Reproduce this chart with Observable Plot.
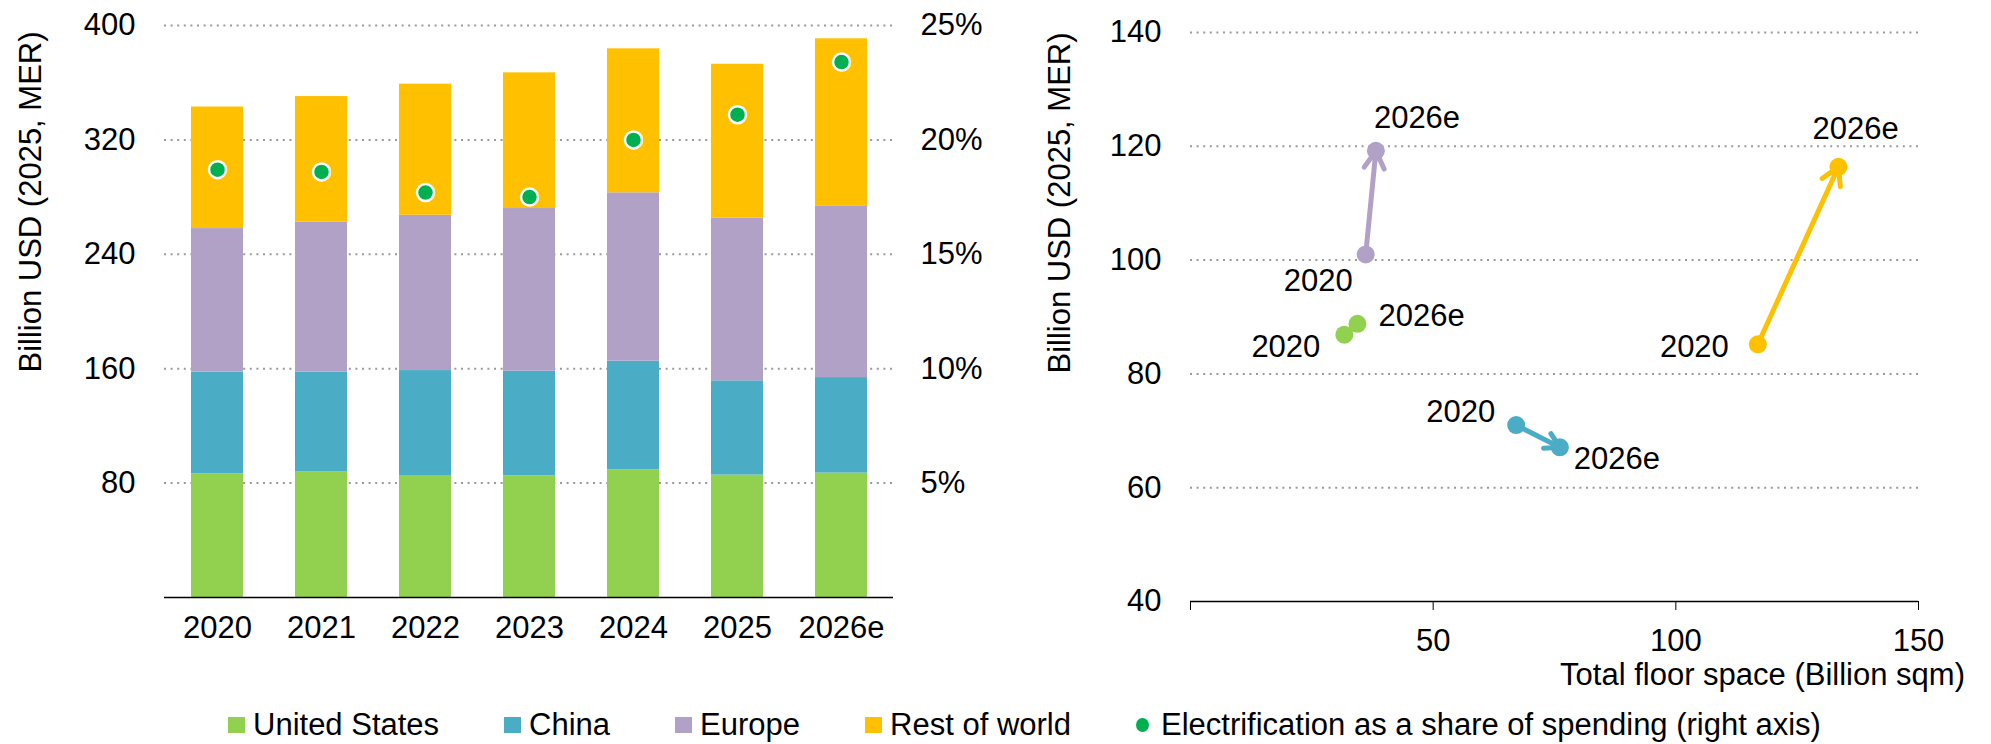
<!DOCTYPE html>
<html>
<head>
<meta charset="utf-8">
<script src="https://cdn.jsdelivr.net/npm/d3@7"></script>
<script src="https://cdn.jsdelivr.net/npm/@observablehq/plot@0.6"></script>
<style>
  html, body { margin: 0; padding: 0; background: #fff; }
  #wrap { position: relative; width: 1991px; height: 744px; overflow: hidden; font-family: "Liberation Sans", Arial, sans-serif; color: #000; }
  #left { position: absolute; left: 0; top: 0; width: 1000px; }
  #right { position: absolute; left: 1000px; top: 0; width: 991px; }
  #legend { position: absolute; left: 228px; top: 707px; height: 36px; display: flex; align-items: center; font-size: 31px; white-space: nowrap; }
  .item { display: flex; align-items: center; margin-right: 65px; }
  .sw { width: 17px; height: 16px; margin-right: 8px; }
  .dotsw { width: 13px; height: 14px; border-radius: 50%; margin-right: 12px; }
</style>
</head>
<body>
<div id="wrap">
  <div id="left"></div>
  <div id="right"></div>
  <div id="legend"></div>
</div>
<script>
// ---------- data ----------
const regions = ["United States", "China", "Europe", "Rest of world"];
const years = ["2020", "2021", "2022", "2023", "2024", "2025", "2026e"];

// Spending, billion USD (2025, MER)
const usSpend     = [86.5, 88.0, 85.3, 85.1, 89.3, 85.6, 87.0];
const chinaSpend  = [71.1, 69.6, 73.4, 73.2, 76.0, 65.9, 66.8];
const europeSpend = [100.4, 104.9, 108.6, 113.7, 117.7, 113.9, 119.7];
const rowSpend    = [85.0, 87.8, 91.7, 94.9, 100.7, 107.5, 117.2];

// Electrification as a share of spending (%)
const electrificationShare = [18.7, 18.6, 17.7, 17.5, 20.0, 21.1, 23.4];

// Right chart: floor space (billion sqm) and spending (billion USD), per region
const scatterYears = ["2020", "2026e"];
const floor2020 = [31.7, 67.1, 36.1, 116.9];
const floor2026 = [34.4, 76.1, 38.2, 133.5];
const spend2020 = [86.9, 71.0, 101.0, 85.2];
const spend2026 = [88.8, 67.1, 119.2, 116.4];

// Tick labels
const leftYTicks = [80, 160, 240, 320, 400];
const shareTicks = [5, 10, 15, 20, 25];
const rightYTicks = [40, 60, 80, 100, 120, 140];
const rightXTicks = [0, 50, 100, 150];

// ---------- styles ----------
const regionColors = ["#92d050", "#4bacc6", "#b2a1c7", "#ffc000"];
const shareColor = "#00b050";
const FONT = "'Liberation Sans', Arial, sans-serif";
const gridStyle = { stroke: "#9a9a9a", strokeOpacity: 1, strokeWidth: 2, strokeDasharray: "2,4.6" };
const SHARE_TO_USD = 400 / 25; // right axis 25% aligns with 400

// ---------- left chart ----------
const spendSeries = [usSpend, chinaSpend, europeSpend, rowSpend];
const barData = [];
years.forEach((yr, i) => spendSeries.forEach((s, j) => barData.push({ year: yr, region: regions[j], value: s[i] })));
const shareData = years.map((yr, i) => ({ year: yr, share: electrificationShare[i] }));

const left = Plot.plot({
  width: 1000, height: 700,
  marginLeft: 164, marginRight: 107, marginTop: 25, marginBottom: 103,
  style: { fontFamily: FONT, fontSize: "31px", color: "#000", background: "transparent" },
  x: { domain: years, paddingInner: 0.5, paddingOuter: 0.25, label: null },
  y: { domain: [0, 400], label: null },
  color: { domain: regions, range: regionColors },
  marks: [
    Plot.gridY(leftYTicks, gridStyle),
    Plot.barY(barData, { x: "year", y: "value", fill: "region" }),
    Plot.ruleY([0], { stroke: "#000", strokeWidth: 1.3 }),
    Plot.dot(shareData, { x: "year", y: d => d.share * SHARE_TO_USD, r: 8.5, fill: shareColor, stroke: "#fff", strokeWidth: 2.5 }),
    Plot.axisY(leftYTicks, { tickSize: 0, tickPadding: 29, label: null }),
    Plot.axisY(shareTicks.map(p => p * SHARE_TO_USD), { anchor: "right", tickSize: 0, tickPadding: 27, label: null, tickFormat: d => (d / SHARE_TO_USD) + "%" }),
    Plot.axisX({ tickSize: 0, tickPadding: 18, label: null })
  ]
});
document.getElementById("left").appendChild(left);
d3.select(left).append("text")
  .attr("transform", "translate(41,202) rotate(-90)")
  .attr("text-anchor", "middle").attr("fill", "#000")
  .text("Billion USD (2025, MER)");

// ---------- right chart ----------
const arrowData = regions.map((r, i) => ({ region: r, x1: floor2020[i], y1: spend2020[i], x2: floor2026[i], y2: spend2026[i] }));
const pointData = [];
regions.forEach((r, i) => {
  pointData.push({ region: r, year: scatterYears[0], floor: floor2020[i], spend: spend2020[i] });
  pointData.push({ region: r, year: scatterYears[1], floor: floor2026[i], spend: spend2026[i] });
});
// label placement (layout only)
const labelLayout = {
  "United States|2020":  { anchor: "end",   dx: -24, dy: 12 },
  "United States|2026e": { anchor: "start", dx: 21,  dy: -8 },
  "China|2020":          { anchor: "end",   dx: -21, dy: -13 },
  "China|2026e":         { anchor: "start", dx: 14,  dy: 12 },
  "Europe|2020":         { anchor: "end",   dx: -13, dy: 27 },
  "Europe|2026e":        { anchor: "start", dx: -2,  dy: -33 },
  "Rest of world|2020":  { anchor: "end",   dx: -29, dy: 3 },
  "Rest of world|2026e": { anchor: "start", dx: -26, dy: -38 }
};
const labelMarks = pointData.map(p => {
  const L = labelLayout[p.region + "|" + p.year];
  return Plot.text([p], { x: "floor", y: "spend", text: "year", textAnchor: L.anchor, dx: L.dx, dy: L.dy, fill: "#000" });
});

const right = Plot.plot({
  width: 991, height: 700,
  marginLeft: 190, marginRight: 73, marginTop: 32, marginBottom: 99,
  style: { fontFamily: FONT, fontSize: "31px", color: "#000", background: "transparent" },
  x: { domain: [0, 150], label: null },
  y: { domain: [40, 140], label: null },
  color: { domain: regions, range: regionColors },
  marks: [
    Plot.gridY(rightYTicks.filter(t => t > 40), gridStyle),
    Plot.ruleY([40], { stroke: "#000", strokeWidth: 1.3 }),
    Plot.axisX(rightXTicks, { tickSize: 9, tickPadding: 18, label: null, stroke: "#000", tickFormat: d => d === 0 ? "" : String(d) }),
    Plot.axisY(rightYTicks, { tickSize: 0, tickPadding: 29, label: null }),
    Plot.arrow(arrowData, { x1: "x1", y1: "y1", x2: "x2", y2: "y2", stroke: "region", strokeWidth: 5, headLength: 6 }),
    Plot.dot(pointData, { x: "floor", y: "spend", fill: "region", r: 9 }),
    ...labelMarks
  ]
});
document.getElementById("right").appendChild(right);
d3.select(right).append("text")
  .attr("transform", "translate(70,203) rotate(-90)")
  .attr("text-anchor", "middle").attr("fill", "#000")
  .text("Billion USD (2025, MER)");
d3.select(right).append("text")
  .attr("x", 965).attr("y", 685)
  .attr("text-anchor", "end").attr("fill", "#000")
  .text("Total floor space (Billion sqm)");

// ---------- legend ----------
const legend = document.getElementById("legend");
regions.forEach((r, i) => {
  const it = document.createElement("div"); it.className = "item";
  const sw = document.createElement("div"); sw.className = "sw"; sw.style.background = regionColors[i];
  const tx = document.createElement("span"); tx.textContent = r;
  it.appendChild(sw); it.appendChild(tx); legend.appendChild(it);
});
{
  const it = document.createElement("div"); it.className = "item";
  const sw = document.createElement("div"); sw.className = "dotsw"; sw.style.background = shareColor;
  const tx = document.createElement("span"); tx.textContent = "Electrification as a share of spending (right axis)";
  it.appendChild(sw); it.appendChild(tx); legend.appendChild(it);
}
</script>
</body>
</html>
